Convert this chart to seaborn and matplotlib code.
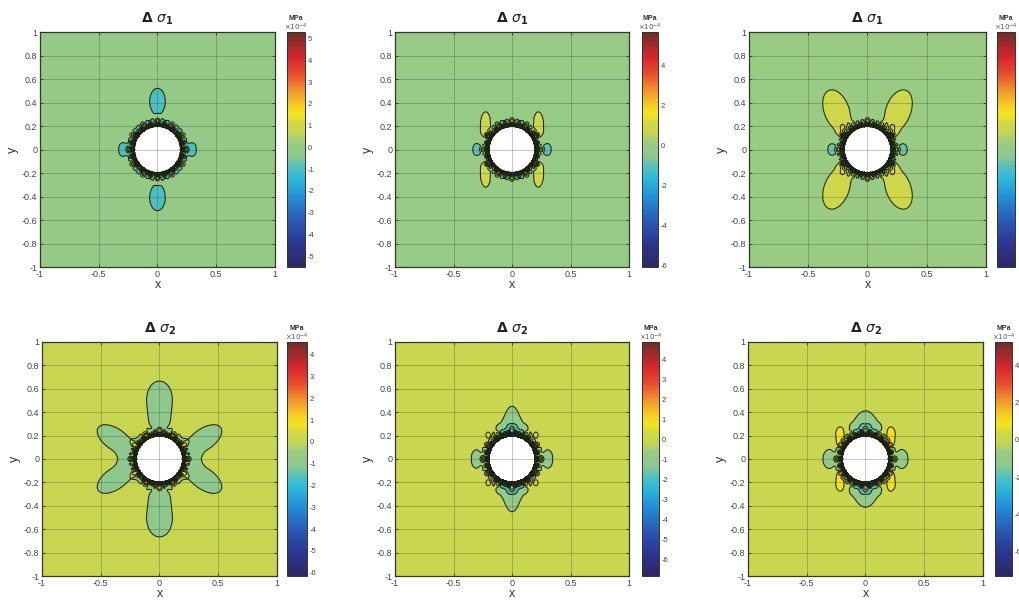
import numpy as np
import matplotlib
matplotlib.use("Agg")
import matplotlib.pyplot as plt
import seaborn as sns
from matplotlib.colors import LinearSegmentedColormap, Normalize
from matplotlib.cm import ScalarMappable
from matplotlib.ticker import FuncFormatter

# ---------------- data ----------------
panel_titles = [r"$\mathbf{\Delta}\ \sigma_{\mathbf{1}}$"] * 3 + [r"$\mathbf{\Delta}\ \sigma_{\mathbf{2}}$"] * 3

# colour-scale limits (units of 1e-4 MPa) and colourbar ticks
cbar_min = [-5.5, -6.1, -6.6, -6.15, -6.8, -7.3]
cbar_max = [5.3, 5.7, 6.0, 4.58, 4.9, 5.25]
cbar_ticks = [list(range(-5, 6)), [-6, -4, -2, 0, 2, 4], [-6, -4, -2, 0, 2, 4],
              list(range(-6, 5)), list(range(-6, 5)), [-6, -4, -2, 0, 2, 4]]
cbar_show_labels = [True, True, False, True, True, True]

hole_radius = 0.193
background = [0.0, 0.0, 0.0, 0.0, 0.0, 0.0]

# stress lobes, first quadrant (mirrored about both axes):
# (centre x, centre y, spread along axis, spread across, axis angle deg, amplitude)
lobes_s1_a = [(0.0, 0.41, 0.048, 0.080, 0, -1.3),
              (0.29, 0.0, 0.028, 0.040, 0, -1.5)]
lobes_s1_b = [(0.225, 0.20, 0.033, 0.087, 0, 1.3),
              (0.30, 0.0, 0.025, 0.035, 0, -1.4)]
lobes_s1_c = [(0.26, 0.33, 0.140, 0.080, 70, 1.2),
              (0.21, 0.17, 0.025, 0.035, 0, 1.4),
              (0.30, 0.0, 0.025, 0.035, 0, -1.4)]
lobes_s2_a = [(0.0, 0.52, 0.080, 0.110, 0, -1.2),
              (0.0, 0.30, 0.068, 0.100, 0, -1.0),
              (0.38, 0.17, 0.130, 0.068, 35, -1.2),
              (0.29, 0.0, 0.045, 0.060, 0, -1.0)]
lobes_s2_b = [(0.0, 0.22, 0.120, 0.070, 0, -1.2),
              (0.0, 0.32, 0.050, 0.110, 0, -1.0),
              (0.30, 0.0, 0.035, 0.060, 0, -1.3),
              (0.20, 0.20, 0.020, 0.030, 0, 1.3)]
lobes_s2_c = [(0.0, 0.20, 0.140, 0.080, 0, -1.3),
              (0.0, 0.30, 0.060, 0.090, 0, -1.0),
              (0.30, 0.0, 0.045, 0.060, 0, -1.3),
              (0.21, 0.20, 0.035, 0.060, 0, 1.7)]
panel_lobes = [lobes_s1_a, lobes_s1_b, lobes_s1_c, lobes_s2_a, lobes_s2_b, lobes_s2_c]

# concentration at the hole wall:
# (cos 2θ amplitude, cos 4θ amplitude, wall ripple amplitude, petal amplitude)
ring_terms = [(1.0, 4.3, 7.0, 1.2), (1.5, 4.0, 7.0, 1.2), (1.5, 4.0, 7.0, 1.2),
              (1.0, 4.5, 7.0, 1.3), (1.0, 4.5, 7.0, 1.3), (1.0, 5.0, 7.0, 1.3)]

# ---------------- style ----------------
sns.set_theme(style="white")
plt.rcParams["font.family"] = ["Liberation Sans", "DejaVu Sans"]
plt.rcParams["axes.unicode_minus"] = False

cmap_stops = [(0.00, "#2d2864"), (0.10, "#2a3690"), (0.20, "#2a5cb8"), (0.30, "#2290d8"),
              (0.38, "#2ebbd8"), (0.43, "#56c2bc"), (0.47, "#8cc88e"), (0.53, "#9acb82"),
              (0.57, "#c6d552"), (0.61, "#d0d848"), (0.65, "#f3e41e"), (0.68, "#f5d41e"),
              (0.74, "#f2a02c"), (0.82, "#e8502c"), (0.89, "#d8262e"), (1.00, "#6e2d28")]
stress_cmap = LinearSegmentedColormap.from_list("stress", cmap_stops, N=512)

grid_n = 901
gx = np.linspace(-1, 1, grid_n)
X, Y = np.meshgrid(gx, gx)


def stress_field(lobes, ring, base):
    R = np.hypot(X, Y)
    T = np.arctan2(Y, X)
    ax_, ay_ = np.abs(X), np.abs(Y)
    F = np.full_like(X, base)
    for cx, cy, su, sv, ang, amp in lobes:
        th = np.deg2rad(ang)
        dx, dy = ax_ - cx, ay_ - cy
        u = dx * np.cos(th) + dy * np.sin(th)
        v = -dx * np.sin(th) + dy * np.cos(th)
        F += amp * np.exp(-0.5 * ((u / su) ** 2 + (v / sv) ** 2))
    a2, a4, rip, pet = ring
    d = np.clip(R - hole_radius, 0, None)
    F += (a2 * np.cos(2 * T) + a4 * np.cos(4 * T)) * np.exp(-d / 0.02)
    F += rip * np.cos(24 * T) * np.exp(-d / 0.024)
    F += pet * np.cos(12 * T) * np.exp(-((d - 0.056) / 0.016) ** 2)
    F[R < hole_radius] = np.nan
    return F


W, H = 1020, 600
fig = plt.figure(figsize=(W / 100, H / 100), dpi=100)
fig.patch.set_facecolor("white")


def px_axes(l, t, w, h):
    return fig.add_axes([l / W, 1 - (t + h) / H, w / W, h / H])


axes_px = [(40, 32, 235, 235), (395, 32, 234, 235), (749, 32, 237, 235),
           (42, 342, 235, 234), (395, 342, 234, 234), (748, 342, 235, 234)]
cbar_px = [(287, 32, 18, 235), (642, 32, 16, 235), (997, 32, 18, 235),
           (287, 342, 20, 234), (642, 342, 17, 234), (995, 342, 17, 234)]

levels = np.arange(-15.5, 16.0, 1.0)
steep_levels = levels[np.abs(levels) > 2.0]


def tick_fmt(v, p):
    s = "%g" % round(v, 2)
    return "0" if s == "-0" else s


fmt = FuncFormatter(tick_fmt)
line_col = "#1a2216"

for i in range(6):
    ax = px_axes(*axes_px[i])
    norm = Normalize(vmin=cbar_min[i], vmax=cbar_max[i])
    F = stress_field(panel_lobes[i], ring_terms[i], background[i])
    ax.contourf(X, Y, F, levels=levels, cmap=stress_cmap, norm=norm)
    ax.contour(X, Y, F, levels=levels, colors=line_col, linewidths=0.75, linestyles="solid")
    ax.contour(X, Y, F, levels=steep_levels, colors=line_col, linewidths=1.6, linestyles="solid")
    ax.set_xlim(-1, 1)
    ax.set_ylim(-1, 1)
    ax.set_xticks([-1, -0.5, 0, 0.5, 1])
    ax.set_yticks(np.round(np.arange(-1, 1.01, 0.2), 1))
    ax.xaxis.set_major_formatter(fmt)
    ax.yaxis.set_major_formatter(fmt)
    ax.grid(True, color="#2a3a2a", alpha=0.28, lw=0.7)
    ax.set_axisbelow(False)
    ax.tick_params(direction="in", length=2.5, width=0.6, labelsize=6.5,
                   labelcolor="#444444", color="#333333", pad=2,
                   top=True, right=True, bottom=True, left=True)
    for s in ax.spines.values():
        s.set_color("#303a28")
        s.set_linewidth(0.9)
    ax.set_title(panel_titles[i], fontsize=10, pad=7, color="#222222")
    ax.set_xlabel("x", fontsize=9, labelpad=0, color="#333333")
    ax.set_ylabel("y", fontsize=9, labelpad=2, color="#333333")

    cax = px_axes(*cbar_px[i])
    cb = fig.colorbar(ScalarMappable(norm=norm, cmap=stress_cmap), cax=cax)
    cb.set_ticks(cbar_ticks[i])
    if not cbar_show_labels[i]:
        cb.set_ticklabels([""] * len(cbar_ticks[i]))
    cb.ax.tick_params(labelsize=5.5, labelcolor="#444444", length=2, width=0.5,
                      direction="in", pad=2)
    cb.outline.set_edgecolor("#333333")
    cb.outline.set_linewidth(0.7)
    l, t, w, h = cbar_px[i]
    fig.text((l + w / 2) / W, 1 - (t - 13) / H, "MPa", fontsize=5, fontweight="bold",
             ha="center", va="center", color="#333333")
    fig.text((l + w / 2) / W, 1 - (t - 5) / H, r"$\times10^{-4}$", fontsize=5,
             ha="center", va="center", color="#555555")

fig.savefig("out.png", dpi=100, facecolor="white")
